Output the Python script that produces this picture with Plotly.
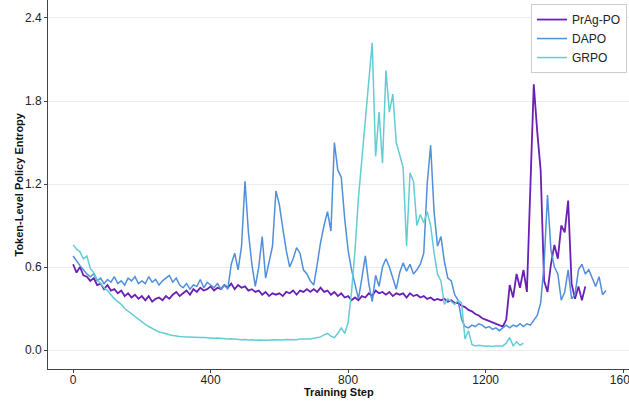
import plotly.graph_objects as go

# ---------------- data ----------------
prag_steps = list(range(0, 1500, 10))
prag_vals = [
    0.62, 0.56, 0.60, 0.54, 0.53, 0.50, 0.52, 0.47, 0.48, 0.44,
    0.47, 0.43, 0.44, 0.41, 0.43, 0.39, 0.41, 0.38, 0.40, 0.37,
    0.39, 0.36, 0.39, 0.35, 0.37, 0.38, 0.36, 0.39, 0.37, 0.40,
    0.42, 0.39, 0.41, 0.43, 0.40, 0.44, 0.42, 0.45, 0.43, 0.44,
    0.46, 0.43, 0.45, 0.44, 0.47, 0.45, 0.48, 0.44, 0.47, 0.45,
    0.46, 0.43, 0.44, 0.42, 0.43, 0.40, 0.42, 0.39, 0.41, 0.40,
    0.41, 0.39, 0.42, 0.41, 0.43, 0.40, 0.43, 0.42, 0.44, 0.42,
    0.44, 0.42, 0.45, 0.42, 0.43, 0.40, 0.42, 0.39, 0.41, 0.38,
    0.39, 0.36, 0.38, 0.36, 0.39, 0.38, 0.41, 0.39, 0.43, 0.41,
    0.42, 0.40, 0.42, 0.39, 0.41, 0.40, 0.41, 0.38, 0.41, 0.39,
    0.40, 0.38, 0.39, 0.37, 0.38, 0.36, 0.37, 0.36, 0.37, 0.35,
    0.36, 0.34, 0.34, 0.32, 0.31, 0.29, 0.28, 0.26, 0.25, 0.23,
    0.22, 0.21, 0.20, 0.19, 0.18, 0.17, 0.22, 0.47, 0.38, 0.55,
    0.45, 0.58, 0.42, 1.25, 1.92, 1.58, 1.30, 0.50, 0.42, 0.62,
    0.76, 0.66, 0.90, 0.85, 1.08, 0.48, 0.37, 0.46, 0.36, 0.46,
]

dapo_steps = list(range(0, 1560, 10))
dapo_vals = [
    0.68, 0.64, 0.61, 0.58, 0.55, 0.53, 0.55, 0.50, 0.52, 0.48,
    0.51, 0.49, 0.53, 0.48, 0.50, 0.47, 0.52, 0.50, 0.53, 0.48,
    0.50, 0.48, 0.53, 0.49, 0.51, 0.47, 0.50, 0.52, 0.54, 0.49,
    0.52, 0.47, 0.45, 0.48, 0.44, 0.47, 0.46, 0.51, 0.45, 0.49,
    0.47, 0.45, 0.48, 0.44, 0.47, 0.44, 0.62, 0.70, 0.58, 0.75,
    1.22, 0.85, 0.62, 0.46, 0.60, 0.82, 0.52, 0.63, 0.75, 1.15,
    1.05, 0.88, 0.72, 0.60, 0.66, 0.74, 0.70, 0.58, 0.55, 0.50,
    0.47, 0.62, 0.78, 0.90, 1.00, 0.86, 1.50, 1.30, 1.25, 0.95,
    0.72, 0.58, 0.48, 0.37, 0.52, 0.68, 0.48, 0.35, 0.54, 0.46,
    0.60, 0.66, 0.60, 0.52, 0.44, 0.56, 0.63, 0.57, 0.62, 0.55,
    0.58, 0.62, 0.70, 1.20, 1.48, 1.00, 0.75, 0.82, 0.64, 0.52,
    0.50, 0.40, 0.36, 0.22, 0.17, 0.16, 0.18, 0.17, 0.19, 0.18,
    0.16, 0.17, 0.15, 0.16, 0.14, 0.16, 0.18, 0.16, 0.18, 0.17,
    0.19, 0.17, 0.19, 0.18, 0.22, 0.25, 0.34, 0.62, 1.12, 0.72,
    0.60, 0.55, 0.36, 0.42, 0.58, 0.37, 0.40, 0.58, 0.62, 0.55,
    0.58, 0.52, 0.46, 0.53, 0.40, 0.43,
]

grpo_steps = list(range(0, 1320, 10))
grpo_vals = [
    0.76, 0.73, 0.71, 0.66, 0.68, 0.59, 0.56, 0.51, 0.48, 0.45,
    0.43, 0.40, 0.37, 0.35, 0.33, 0.30, 0.28, 0.26, 0.24, 0.22,
    0.20, 0.185, 0.17, 0.155, 0.145, 0.13, 0.125, 0.115, 0.11, 0.105,
    0.10, 0.098, 0.096, 0.094, 0.095, 0.092, 0.093, 0.09, 0.091, 0.088,
    0.09, 0.086, 0.087, 0.083, 0.084, 0.08, 0.081, 0.078, 0.079, 0.075,
    0.076, 0.072, 0.074, 0.07, 0.072, 0.07, 0.073, 0.071, 0.074, 0.072,
    0.075, 0.073, 0.076, 0.074, 0.077, 0.075, 0.079, 0.078, 0.082, 0.08,
    0.086, 0.088, 0.095, 0.11, 0.12, 0.10, 0.09, 0.12, 0.16, 0.12,
    0.20, 0.42, 0.72, 1.10, 1.38, 1.70, 1.95, 2.22, 1.40, 1.72,
    1.35, 2.02, 1.72, 1.85, 1.50, 1.40, 1.32, 0.75, 1.28, 1.22,
    0.90, 0.98, 0.92, 1.00, 0.90, 0.70, 0.55, 0.50, 0.33, 0.37,
    0.35, 0.33, 0.36, 0.34, 0.08, 0.14, 0.04, 0.03, 0.035, 0.03,
    0.028, 0.03, 0.025, 0.03, 0.028, 0.03, 0.05, 0.09, 0.03, 0.06,
    0.035, 0.05,
]

series_names = ["PrAg-PO", "DAPO", "GRPO"]
series_colors = ["#6a1fb5", "#4f8fdc", "#63cdd4"]
series_widths = [1.8, 1.5, 1.5]

y_ticks = [0.0, 0.6, 1.2, 1.8, 2.4]
x_ticks = [0, 400, 800, 1200, 1600]

# ---------------- figure ----------------
fig = go.Figure()
for name, xs, ys, col, w in zip(series_names,
                                [prag_steps, dapo_steps, grpo_steps],
                                [prag_vals, dapo_vals, grpo_vals],
                                series_colors, series_widths):
    fig.add_trace(go.Scatter(x=xs, y=ys, mode="lines", name=name,
                             line=dict(color=col, width=w)))

font_family = "Liberation Sans, Arial, sans-serif"
fig.update_layout(
    width=629, height=403,
    margin=dict(l=48, r=0, t=0, b=34, autoexpand=False),
    plot_bgcolor="white", paper_bgcolor="white",
    font=dict(family=font_family, size=12, color="#222"),
    showlegend=True,
    legend=dict(x=0.9966, y=0.989, xanchor="right", yanchor="top",
                bgcolor="white", bordercolor="#cccccc", borderwidth=1,
                font=dict(size=12, color="#222"), tracegroupgap=0),
)
fig.add_annotation(text="<b>Training Step</b>", x=0.5, y=(369 - 392) / 369,
                   xref="paper", yref="paper", showarrow=False,
                   font=dict(size=11, color="#111"), xanchor="center", yanchor="middle")
fig.add_annotation(text="<b>Token-Level Policy Entropy</b>", x=(18 - 48) / 581, y=0.5,
                   xref="paper", yref="paper", showarrow=False, textangle=-90,
                   font=dict(size=11, color="#111"), xanchor="center", yanchor="middle")

fig.update_xaxes(
    range=[-73, 1617], tickvals=x_ticks,
    ticktext=[str(v) for v in x_ticks],
    showgrid=False, zeroline=False, automargin=False,
    showline=True, linecolor="#444", linewidth=1,
    ticks="outside", ticklen=3, tickcolor="#444",
    ticklabeloverflow="allow", ticklabelstandoff=-3,
)
fig.update_yaxes(
    range=[-0.137, 2.53], tickvals=y_ticks,
    ticktext=[f"{v:.1f}" for v in y_ticks],
    showgrid=True, gridcolor="#ececec", gridwidth=1, zeroline=False, automargin=False,
    showline=True, linecolor="#444", linewidth=1,
    ticks="outside", ticklen=3, tickcolor="#444",
)

fig.write_html("out.html", config={"displayModeBar": False},
               post_script="document.body.style.margin='0px';document.body.style.overflow='hidden';")
